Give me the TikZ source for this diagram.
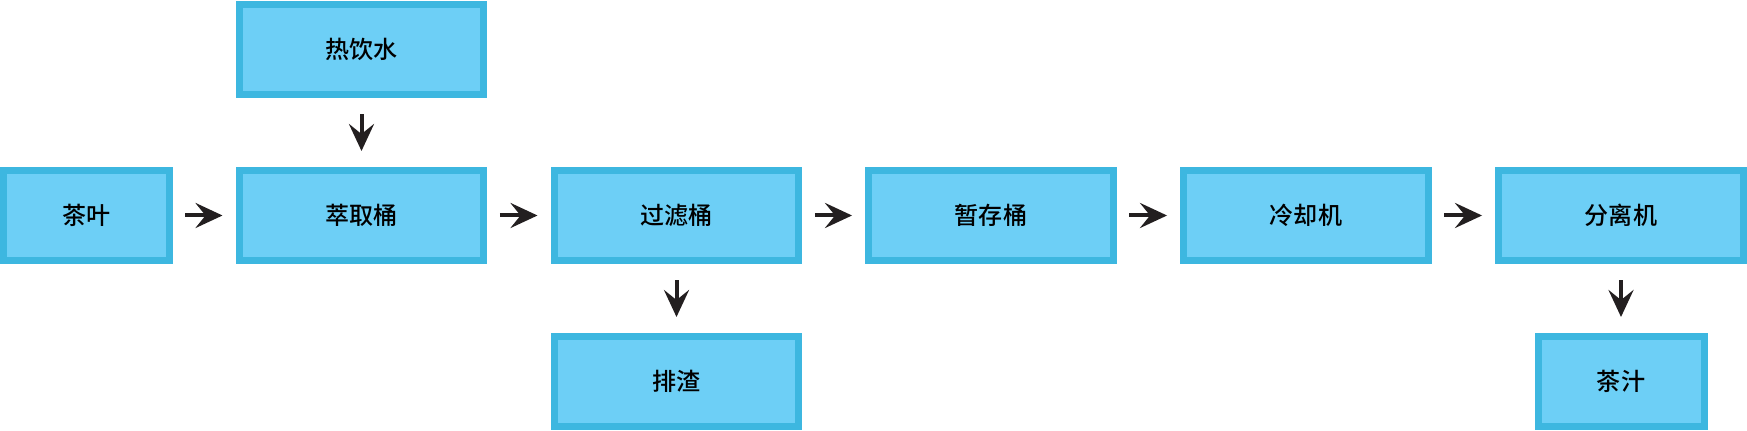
\documentclass[tikz,border=0pt]{standalone}
\usepackage{fontspec}
\newfontfamily\cjk{Noto Sans CJK SC}[BoldFont={Noto Sans CJK SC Medium}]
\usetikzlibrary{arrows.meta}
\definecolor{boxfill}{HTML}{6DCFF6}
\definecolor{boxline}{HTML}{3DB7E0}
\definecolor{arrowgray}{HTML}{231F20}

\begin{document}
\begin{tikzpicture}[x=0.02cm, y=-0.02cm,
	stage/.style={draw=boxline, fill=boxfill, line width=0.14cm, inner sep=0pt,
		minimum width=4.9cm, minimum height=1.8cm,
		font=\cjk\bfseries\fontsize{13.7}{16}\selectfont},
	smallstage/.style={stage, minimum width=3.32cm},
	flow/.style={draw=arrowgray, line width=0.08cm,
		-{Stealth[length=0.54cm, width=0.5cm, inset=0.2cm]}},
	across/.style={flow, shorten <=0.25cm, shorten >=0.26cm},
	downward/.style={flow, shorten <=0.33cm, shorten >=0.32cm}]
			%%%%% FRAME %%%%%
			\useasboundingbox (0, 0) rectangle (1747, 431);
			
			%%%%% STAGES %%%%%
			\node[stage] (water) at (361.5, 49.5) {热饮水};
			
			\node[smallstage] (leaves) at (86.5, 215.5) {茶叶};
			\node[stage] (extract) at (361.5, 215.5) {萃取桶};
			\node[stage] (filter) at (676.5, 215.5) {过滤桶};
			\node[stage] (buffer) at (991, 215.5) {暂存桶};
			\node[stage] (cooler) at (1306, 215.5) {冷却机};
			\node[stage] (separator) at (1621, 215.5) {分离机};
			
			\node[stage] (residue) at (676.5, 381.5) {排渣};
			\node[smallstage] (juice) at (1621, 381.5) {茶汁};
			
			%%%%% FLOW %%%%%
			\draw[downward] (water) -- (extract);
			\draw[across] (leaves) -- (extract);
			\draw[across] (extract) -- (filter);
			\draw[across] (filter) -- (buffer);
			\draw[across] (buffer) -- (cooler);
			\draw[across] (cooler) -- (separator);
			\draw[downward] (filter) -- (residue);
			\draw[downward] (separator) -- (juice);
		\end{tikzpicture}
\end{document}
